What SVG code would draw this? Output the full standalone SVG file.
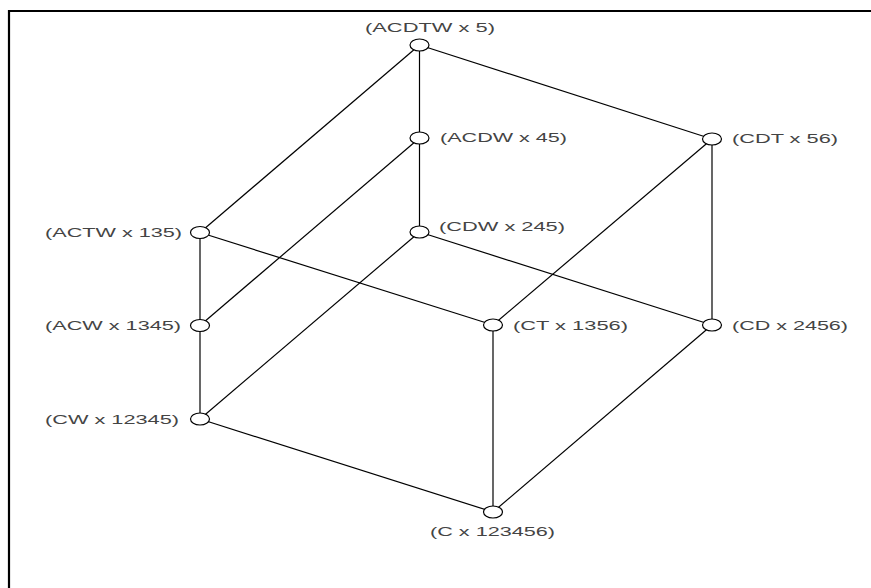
<svg xmlns="http://www.w3.org/2000/svg" width="871" height="588" viewBox="0 0 871 588">
<style>
.edge{stroke:#000;stroke-width:1.2;fill:none}
.node{fill:#fff;stroke:#000;stroke-width:1.2}
.lbl{font-family:"Liberation Sans",Arial,sans-serif;font-size:12px;fill:#444}
</style>
<rect width="871" height="588" fill="#fff"/>
<path d="M8 11 H871 M9 10 V588" stroke="#000" stroke-width="2.2" fill="none"/>
<g id="connectors">
<line class="edge" x1="419.5" y1="45" x2="419.5" y2="138"/>
<line class="edge" x1="419.5" y1="138" x2="419.5" y2="232"/>
<line class="edge" x1="419.5" y1="45" x2="712" y2="139"/>
<line class="edge" x1="419.5" y1="45" x2="200" y2="232.5"/>
<line class="edge" x1="419.5" y1="138" x2="200" y2="325.5"/>
<line class="edge" x1="419.5" y1="232" x2="200" y2="419"/>
<line class="edge" x1="419.5" y1="232" x2="712" y2="325"/>
<line class="edge" x1="712" y1="139" x2="712" y2="325"/>
<line class="edge" x1="712" y1="139" x2="493" y2="325"/>
<line class="edge" x1="200" y1="232.5" x2="200" y2="325.5"/>
<line class="edge" x1="200" y1="325.5" x2="200" y2="419"/>
<line class="edge" x1="200" y1="232.5" x2="493" y2="325"/>
<line class="edge" x1="493" y1="325" x2="493" y2="512"/>
<line class="edge" x1="712" y1="325" x2="493" y2="512"/>
<line class="edge" x1="200" y1="419" x2="493" y2="512"/>
</g>
<g id="n-ACDTW"><ellipse class="node" cx="419.5" cy="45" rx="9.5" ry="6"/><text class="lbl" x="365" y="32" textLength="130" lengthAdjust="spacingAndGlyphs">(ACDTW x 5)</text></g>
<g id="n-ACDW"><ellipse class="node" cx="419.5" cy="138" rx="9.5" ry="6"/><text class="lbl" x="440" y="142" textLength="127" lengthAdjust="spacingAndGlyphs">(ACDW x 45)</text></g>
<g id="n-CDT"><ellipse class="node" cx="712" cy="139" rx="9.5" ry="6"/><text class="lbl" x="732" y="143" textLength="106" lengthAdjust="spacingAndGlyphs">(CDT x 56)</text></g>
<g id="n-ACTW"><ellipse class="node" cx="200" cy="232.5" rx="9.5" ry="6"/><text class="lbl" x="45" y="237" textLength="137" lengthAdjust="spacingAndGlyphs">(ACTW x 135)</text></g>
<g id="n-CDW"><ellipse class="node" cx="419.5" cy="232" rx="9.5" ry="6"/><text class="lbl" x="439" y="231" textLength="126" lengthAdjust="spacingAndGlyphs">(CDW x 245)</text></g>
<g id="n-ACW"><ellipse class="node" cx="200" cy="325.5" rx="9.5" ry="6"/><text class="lbl" x="45" y="329.5" textLength="136" lengthAdjust="spacingAndGlyphs">(ACW x 1345)</text></g>
<g id="n-CT"><ellipse class="node" cx="493" cy="325" rx="9.5" ry="6"/><text class="lbl" x="513" y="330" textLength="115" lengthAdjust="spacingAndGlyphs">(CT x 1356)</text></g>
<g id="n-CD"><ellipse class="node" cx="712" cy="325" rx="9.5" ry="6"/><text class="lbl" x="732" y="330" textLength="116" lengthAdjust="spacingAndGlyphs">(CD x 2456)</text></g>
<g id="n-CW"><ellipse class="node" cx="200" cy="419" rx="9.5" ry="6"/><text class="lbl" x="45" y="424" textLength="134" lengthAdjust="spacingAndGlyphs">(CW x 12345)</text></g>
<g id="n-C"><ellipse class="node" cx="493" cy="512" rx="9.5" ry="6"/><text class="lbl" x="430" y="536" textLength="125" lengthAdjust="spacingAndGlyphs">(C x 123456)</text></g>
</svg>
